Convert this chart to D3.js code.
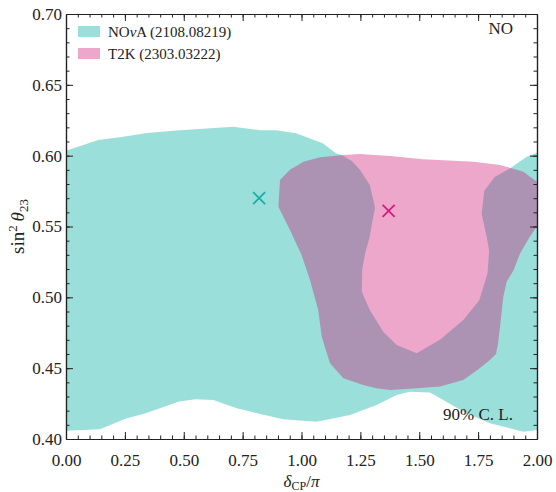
<!DOCTYPE html>
<html>
<head>
<meta charset="utf-8">
<script src="https://cdn.jsdelivr.net/npm/d3@7"></script>
<style>
  html, body { margin: 0; padding: 0; background: #fff; }
  svg text { font-family: "Liberation Serif", "DejaVu Serif", serif; fill: #222; }
</style>
</head>
<body>
<svg id="chart" width="556" height="492"></svg>
<script>
// ---- data ----
const xTicks = [0, 0.25, 0.5, 0.75, 1.0, 1.25, 1.5, 1.75, 2.0];
const yTicks = [0.40, 0.45, 0.50, 0.55, 0.60, 0.65, 0.70];

// NOvA 90% C.L. region: upper edge (incl. the notch around the T2K core), then lower edge
const novaUpper = [
  [0, 0.6035], [0.137, 0.611], [0.243, 0.6134], [0.343, 0.616], [0.47, 0.6177],
  [0.583, 0.619], [0.71, 0.6205], [0.824, 0.618], [0.892, 0.618], [0.977, 0.6158],
  [1.09, 0.6087], [1.146, 0.6017], [1.171, 0.6005], [1.215, 0.596], [1.248, 0.59],
  [1.29, 0.5793], [1.305, 0.5687], [1.312, 0.563], [1.30, 0.553], [1.29, 0.543],
  [1.27, 0.531], [1.258, 0.52], [1.256, 0.504], [1.29, 0.491], [1.347, 0.4757],
  [1.404, 0.4664], [1.489, 0.4605], [1.588, 0.47], [1.687, 0.484], [1.755, 0.498],
  [1.79, 0.517], [1.797, 0.533], [1.786, 0.543], [1.765, 0.559], [1.776, 0.575],
  [1.82, 0.585], [1.885, 0.591], [1.956, 0.5993], [2.0, 0.602]
];
const novaLower = [
  [2.0, 0.4064], [1.942, 0.4052], [1.80, 0.4111], [1.70, 0.4182], [1.602, 0.4275],
  [1.546, 0.4328], [1.46, 0.4334], [1.404, 0.431], [1.319, 0.424], [1.206, 0.417],
  [1.064, 0.4122], [0.923, 0.4139], [0.824, 0.4177], [0.725, 0.4217], [0.626, 0.4275],
  [0.548, 0.428], [0.477, 0.4263], [0.399, 0.4217], [0.328, 0.4177], [0.258, 0.4146],
  [0.144, 0.4068], [0, 0.4059]
];

// T2K 90% C.L. region (closed contour)
const t2kContour = [
  [0.909, 0.5828], [0.951, 0.59], [1.008, 0.5957], [1.079, 0.5988], [1.178, 0.6005],
  [1.248, 0.6012], [1.376, 0.5998], [1.517, 0.5974], [1.73, 0.5957], [1.843, 0.5934],
  [1.942, 0.5887], [2.0, 0.5816], [2.0, 0.55], [1.97, 0.543], [1.928, 0.531],
  [1.9, 0.519], [1.871, 0.511], [1.857, 0.5005], [1.85, 0.49], [1.843, 0.4793],
  [1.835, 0.468], [1.826, 0.46], [1.80, 0.4557], [1.75, 0.449], [1.687, 0.4417],
  [1.588, 0.437], [1.489, 0.4358], [1.376, 0.4346], [1.319, 0.4358], [1.262, 0.4381],
  [1.178, 0.4429], [1.121, 0.4534], [1.086, 0.4722], [1.071, 0.4911], [1.036, 0.5122],
  [1.022, 0.5193], [1.0, 0.53], [0.951, 0.5475], [0.902, 0.564], [0.906, 0.5758]
];

const bestFits = [
  { name: "NOvA", x: 0.82, y: 0.570 },
  { name: "T2K",  x: 1.37, y: 0.561 }
];
// legend labels split into [upright, italic, upright] parts
const legendLabels = [["NO", "\u03BD", "A (2108.08219)"], ["T2K (2303.03222)", "", ""]];

// ---- styles ----
const colors = {
  NOvA: { fill: "rgb(31,184,173)", opacity: 0.45, mark: "#1aaea4" },
  T2K:  { fill: "rgb(204,17,115)", opacity: 0.37, mark: "#d81b7f" }
};

const svg = d3.select("#chart");
const M = { left: 66, right: 537, top: 14, bottom: 439 };
const x = d3.scaleLinear().domain([0, 2]).range([M.left, M.right]);
const y = d3.scaleLinear().domain([0.40, 0.70]).range([M.bottom, M.top]);

svg.append("defs").append("clipPath").attr("id", "plotclip")
  .append("rect").attr("x", M.left).attr("y", M.top)
  .attr("width", M.right - M.left).attr("height", M.bottom - M.top);

const line = d3.line().x(d => x(d[0])).y(d => y(d[1]));
const plot = svg.append("g").attr("clip-path", "url(#plotclip)");

plot.append("path")
  .attr("d", line(novaUpper.concat(novaLower)) + "Z")
  .attr("fill", colors.NOvA.fill).attr("fill-opacity", colors.NOvA.opacity);

plot.append("path")
  .attr("d", line(t2kContour) + "Z")
  .attr("fill", colors.T2K.fill).attr("fill-opacity", colors.T2K.opacity);

// best-fit crosses
const r = 6;
bestFits.forEach(b => {
  const cx = x(b.x), cy = y(b.y);
  const p = d3.path();
  p.moveTo(cx - r, cy - r); p.lineTo(cx + r, cy + r);
  p.moveTo(cx - r, cy + r); p.lineTo(cx + r, cy - r);
  plot.append("path").attr("d", p.toString())
    .attr("stroke", colors[b.name].mark).attr("stroke-width", 1.8).attr("fill", "none");
});

// ---- axes ----
const xMinor = d3.range(0, 2.0001, 0.05).map(v => +v.toFixed(2));
const yMinor = d3.range(0.40, 0.7001, 0.01).map(v => +v.toFixed(2));
const axColor = "#222";
function styleAxis(g) {
  g.selectAll("path.domain").attr("stroke", axColor).attr("stroke-width", 1.2);
  g.selectAll(".tick line").attr("stroke", axColor).attr("stroke-width", 1);
  g.selectAll("text").attr("font-size", 17).attr("fill", "#222")
    .style("font-family", '"Liberation Serif", serif');
}
const fmt = d3.format(".2f");

// minor ticks
svg.append("g").attr("transform", `translate(0,${M.bottom})`)
  .call(d3.axisBottom(x).tickValues(xMinor).tickSize(-3.5).tickFormat("").tickSizeOuter(0)).call(styleAxis);
svg.append("g").attr("transform", `translate(0,${M.top})`)
  .call(d3.axisTop(x).tickValues(xMinor).tickSize(-3.5).tickFormat("").tickSizeOuter(0)).call(styleAxis);
svg.append("g").attr("transform", `translate(${M.left},0)`)
  .call(d3.axisLeft(y).tickValues(yMinor).tickSize(-3.5).tickFormat("").tickSizeOuter(0)).call(styleAxis);
svg.append("g").attr("transform", `translate(${M.right},0)`)
  .call(d3.axisRight(y).tickValues(yMinor).tickSize(-3.5).tickFormat("").tickSizeOuter(0)).call(styleAxis);

// major ticks
svg.append("g").attr("transform", `translate(0,${M.bottom})`)
  .call(d3.axisBottom(x).tickValues(xTicks).tickSize(-7).tickPadding(15).tickFormat(fmt).tickSizeOuter(0)).call(styleAxis);
svg.append("g").attr("transform", `translate(0,${M.top})`)
  .call(d3.axisTop(x).tickValues(xTicks).tickSize(-7).tickFormat("").tickSizeOuter(0)).call(styleAxis);
svg.append("g").attr("transform", `translate(${M.left},0)`)
  .call(d3.axisLeft(y).tickValues(yTicks).tickSize(-7).tickPadding(4).tickFormat(fmt).tickSizeOuter(0)).call(styleAxis);
svg.append("g").attr("transform", `translate(${M.right},0)`)
  .call(d3.axisRight(y).tickValues(yTicks).tickSize(-7).tickFormat("").tickSizeOuter(0)).call(styleAxis);

// axis labels
const xl = svg.append("text").attr("x", (M.left + M.right) / 2).attr("y", 487)
  .attr("text-anchor", "middle").attr("font-size", 17);
xl.append("tspan").attr("font-style", "italic").text("\u03B4");
xl.append("tspan").attr("font-size", 12).attr("dy", 2.5).text("CP");
xl.append("tspan").attr("dy", -2.5).text("/");
xl.append("tspan").attr("font-style", "italic").text("\u03C0");

const yl = svg.append("text")
  .attr("transform", `translate(24,${(M.top + M.bottom) / 2}) rotate(-90)`)
  .attr("text-anchor", "middle").attr("font-size", 19);
yl.append("tspan").text("sin");
yl.append("tspan").attr("font-size", 13).attr("dy", -7).text("2");
yl.append("tspan").attr("dy", 7).text("\u2009");
yl.append("tspan").attr("font-style", "italic").text("\u03B8");
yl.append("tspan").attr("font-size", 13).attr("dy", 4).text("23");

// legend
const legendKeys = ["NOvA", "T2K"];
legendKeys.forEach((k, i) => {
  const yy = 26 + i * 22;
  svg.append("rect").attr("x", 78).attr("y", yy).attr("width", 22).attr("height", 11)
    .attr("fill", colors[k].fill).attr("fill-opacity", colors[k].opacity);
  const t = svg.append("text").attr("x", 108).attr("y", yy + 10.5).attr("font-size", 15);
  const parts = legendLabels[i];
  t.append("tspan").text(parts[0]);
  if (parts[1]) t.append("tspan").attr("font-style", "italic").text(parts[1]);
  if (parts[2]) t.append("tspan").text(parts[2]);
});

// annotations
svg.append("text").attr("x", 513).attr("y", 34).attr("text-anchor", "end")
  .attr("font-size", 17).text("NO");
svg.append("text").attr("x", 513).attr("y", 420).attr("text-anchor", "end")
  .attr("font-size", 17).text("90% C. L.");
</script>
</body>
</html>
